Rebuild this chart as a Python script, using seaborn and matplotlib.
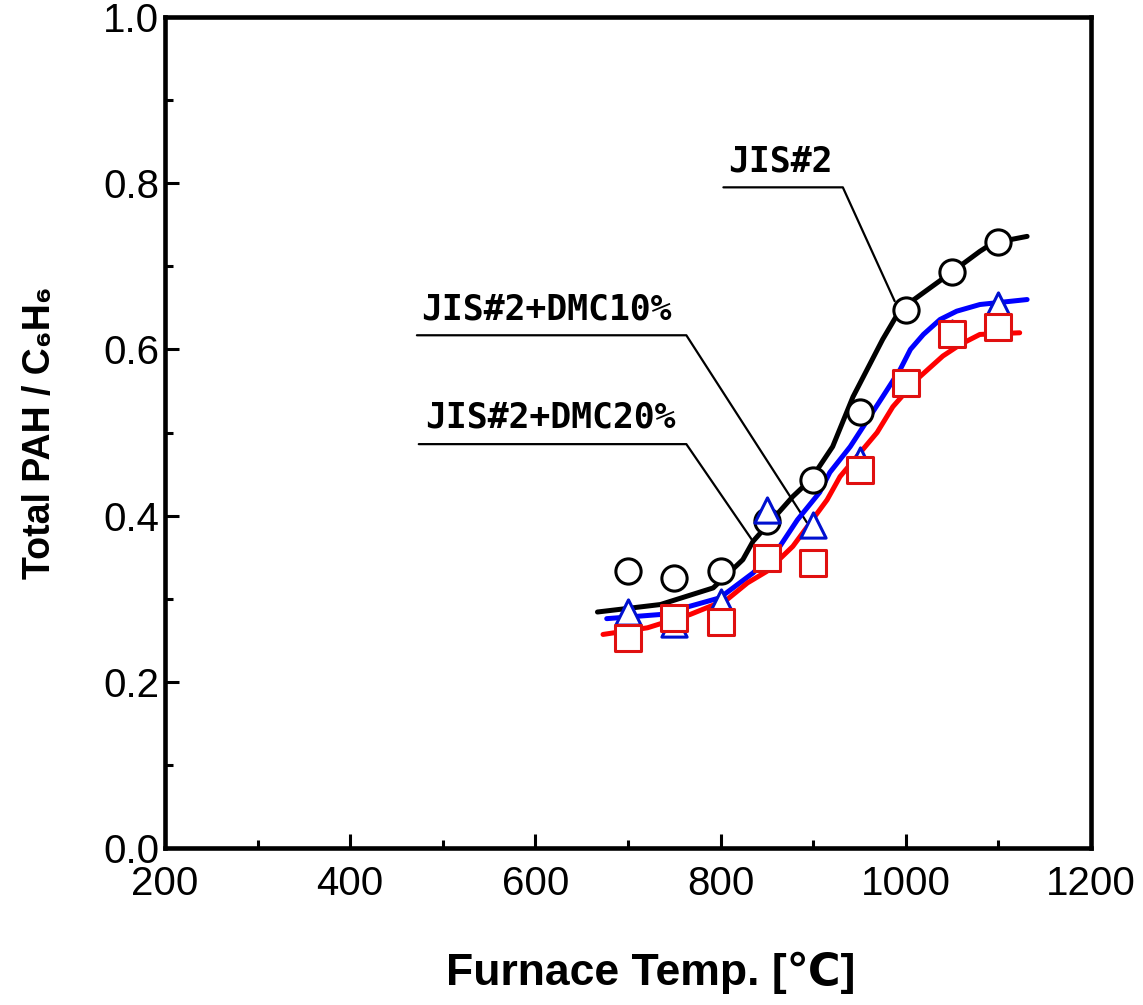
import numpy as np
import pandas as pd
import matplotlib
matplotlib.use("Agg")
import matplotlib.pyplot as plt
import seaborn as sns

# ---- measured points ----
temps = [700, 750, 800, 850, 900, 950, 1000, 1050, 1100]
jis2_pts = [0.333, 0.325, 0.333, 0.393, 0.443, 0.525, 0.648, 0.693, 0.729]
dmc10_pts = [0.284, 0.269, 0.296, 0.407, 0.389, 0.467, 0.560, 0.620, 0.654]
dmc20_pts = [0.253, 0.277, 0.272, 0.349, 0.343, 0.455, 0.560, 0.618, 0.627]

# ---- fitted curves ----
jis2_curve_x = [667, 735, 792, 824, 835, 878, 897, 921, 943, 975, 994, 1046, 1080, 1094, 1131]
jis2_curve_y = [0.284, 0.293, 0.313, 0.347, 0.369, 0.423, 0.443, 0.483, 0.543, 0.612, 0.648, 0.690, 0.718, 0.728, 0.736]

dmc10_curve_x = [677, 735, 799, 835, 864, 883, 907, 918, 940, 954, 975, 994, 1005, 1019, 1037, 1055, 1080, 1131]
dmc10_curve_y = [0.276, 0.281, 0.301, 0.331, 0.363, 0.395, 0.428, 0.452, 0.483, 0.507, 0.543, 0.576, 0.600, 0.618, 0.636, 0.646, 0.654, 0.660]

dmc20_curve_x = [673, 721, 767, 807, 829, 850, 878, 915, 929, 969, 986, 1012, 1040, 1059, 1080, 1123]
dmc20_curve_y = [0.257, 0.265, 0.281, 0.299, 0.319, 0.333, 0.363, 0.419, 0.447, 0.500, 0.531, 0.564, 0.592, 0.606, 0.618, 0.620]

labels = ["JIS#2", "JIS#2+DMC10%", "JIS#2+DMC20%"]

sns.set_theme(style="white")
plt.rcParams['font.family'] = ['Liberation Sans', 'DejaVu Sans']
plt.rcParams['text.color'] = 'black'
plt.rcParams['xtick.color'] = 'black'
plt.rcParams['ytick.color'] = 'black'
plt.rcParams['axes.labelcolor'] = 'black'

fig = plt.figure(figsize=(11.43, 10.05), dpi=100)
ax = fig.add_axes([0.1444, 0.1562, 0.8101, 0.8269])

lw = 3.6
sns.lineplot(x=jis2_curve_x, y=jis2_curve_y, ax=ax, color="black", linewidth=lw, sort=False, zorder=2)
sns.lineplot(x=dmc10_curve_x, y=dmc10_curve_y, ax=ax, color="#0000ff", linewidth=lw, sort=False, zorder=2)
sns.lineplot(x=dmc20_curve_x, y=dmc20_curve_y, ax=ax, color="#ff0000", linewidth=lw, sort=False, zorder=2)

sns.scatterplot(x=temps, y=jis2_pts, ax=ax, marker="o", s=330, facecolor="white",
                edgecolor="black", linewidth=2.2, zorder=3)
sns.scatterplot(x=temps, y=dmc10_pts, ax=ax, marker="^", s=330, facecolor="white",
                edgecolor="#0010d0", linewidth=2.2, zorder=4)
sns.scatterplot(x=temps, y=dmc20_pts, ax=ax, marker="s", s=330, facecolor="white",
                edgecolor="#e01010", linewidth=2.2, zorder=5)

# annotations with leader lines
mono = ['DejaVu Sans Mono']
ann = [
    (labels[0], (803, 0.795), (932, 0.795), (988, 0.658), (808, 0.806)),
    (labels[1], (472, 0.617), (763, 0.617), (893, 0.392), (477, 0.628)),
    (labels[2], (474, 0.486), (763, 0.486), (835, 0.369), (481, 0.497)),
]
for text, p0, p1, p2, tp in ann:
    ax.plot([p0[0], p1[0], p2[0]], [p0[1], p1[1], p2[1]], color="black", linewidth=1.6, zorder=1)
    ax.text(tp[0], tp[1], text, family=mono, fontweight="bold", fontsize=25,
            ha="left", va="bottom", color="black")

ax.set_xlim(200, 1200)
ax.set_ylim(0.0, 1.0)
ax.set_xticks([200, 400, 600, 800, 1000, 1200])
ax.set_xticks([300, 500, 700, 900, 1100], minor=True)
ax.set_yticks([0.0, 0.2, 0.4, 0.6, 0.8, 1.0])
ax.set_yticks([0.1, 0.3, 0.5, 0.7, 0.9], minor=True)
ax.set_yticklabels(["0.0", "0.2", "0.4", "0.6", "0.8", "1.0"])
ax.tick_params(axis="both", which="both", direction="in", color="black", labelcolor="black",
               bottom=True, left=True, top=False, right=False)
ax.tick_params(axis="both", which="major", length=10, width=2.2, labelsize=29)
ax.tick_params(axis="both", which="minor", length=6, width=2.2)
ax.tick_params(axis="x", which="major", pad=12)
ax.tick_params(axis="y", which="major", pad=4)

for sp in ax.spines.values():
    sp.set_visible(True)
    sp.set_color("black")
    sp.set_linewidth(3.3)

ax.set_xlabel("Furnace Temp. [\u2103]", fontsize=32, fontweight="bold", color="black")
ax.xaxis.set_label_coords(0.525, -0.125)
ax.set_ylabel("Total PAH / C\u2086H\u2086", fontsize=27, fontweight="bold", color="black")
ax.yaxis.set_label_coords(-0.116, 0.5)
ax.grid(False)

fig.savefig("out.png", dpi=100)
